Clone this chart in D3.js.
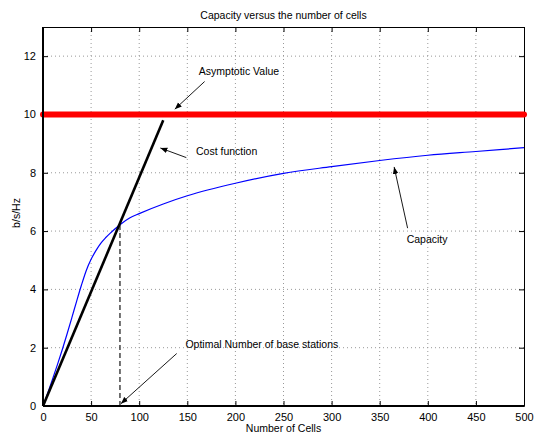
<!DOCTYPE html>
<html>
<head>
<meta charset="utf-8">
<script src="https://cdn.jsdelivr.net/npm/d3@7"></script>
<style>
body { margin: 0; background: #fff; }
text { font-family: "Liberation Sans", Arial, Helvetica, sans-serif; fill: #000; }
</style>
</head>
<body>
<svg width="539" height="435"></svg>
<script>
// capacity curve
var capCells = [0, 5, 10, 15, 20, 25, 30, 35, 40, 45, 50, 55, 60, 65, 70, 75, 80, 90, 100, 125, 150, 200, 250, 300, 350, 400, 450, 500];
var capValues = [0, 0.45, 0.93, 1.42, 1.93, 2.47, 3.03, 3.6, 4.15, 4.65, 5.03, 5.33, 5.58, 5.77, 5.93, 6.08, 6.22, 6.45, 6.6, 6.93, 7.21, 7.64, 7.98, 8.21, 8.42, 8.6, 8.73, 8.86];
var costCells = [0, 125];
var costValues = [0, 9.8];
var asymptote = 10;
var optimalCells = 80;
var optimalValue = 6.24;
var xTicks = [0, 50, 100, 150, 200, 250, 300, 350, 400, 450, 500];
var yTicks = [0, 2, 4, 6, 8, 10, 12];

// annotations: text, text position [cells, value], arrow tail, arrow head
var notes = [
  { label: "Asymptotic Value", at: [162, 11.47], from: [168, 11.13], to: [137, 10.18] },
  { label: "Cost function", at: [159, 8.72], from: [149, 8.52], to: [122, 8.85] },
  { label: "Capacity", at: [378, 5.72], from: [379, 6.1], to: [365, 8.2] },
  { label: "Optimal Number of base stations", at: [148, 2.12], from: [139, 1.8], to: [81, 0.08] }
];

var svg = d3.select("svg"),
    margin = {left: 43, top: 27, right: 15, bottom: 29},
    width = 539 - margin.left - margin.right,
    height = 435 - margin.top - margin.bottom;

var x = d3.scaleLinear().domain([0, 500]).range([0, width]);
var y = d3.scaleLinear().domain([0, 13]).range([height, 0]);

var defs = svg.append("defs");
defs.append("marker")
  .attr("id", "head")
  .attr("viewBox", "0 0 10 10")
  .attr("refX", 10).attr("refY", 5)
  .attr("markerWidth", 7).attr("markerHeight", 7)
  .attr("markerUnits", "userSpaceOnUse")
  .attr("orient", "auto")
  .append("path")
  .attr("d", "M0,1L10,5L0,9Z")
  .attr("fill", "#000");

var g = svg.append("g").attr("transform", "translate(" + margin.left + "," + margin.top + ")");

// grid
g.selectAll(".gx").data(xTicks.slice(1, -1)).enter().append("line")
  .attr("x1", x).attr("x2", x).attr("y1", 0).attr("y2", height)
  .attr("stroke", "#999").attr("stroke-dasharray", "1,3");
g.selectAll(".gy").data(yTicks.slice(1)).enter().append("line")
  .attr("y1", y).attr("y2", y).attr("x1", 0).attr("x2", width)
  .attr("stroke", "#999").attr("stroke-dasharray", "1,3");

// axes with inward ticks, box
g.append("g").attr("transform", "translate(0," + height + ")")
  .call(d3.axisBottom(x).tickValues(xTicks).tickSizeInner(-5).tickSizeOuter(0).tickPadding(7));
g.append("g")
  .call(d3.axisTop(x).tickValues(xTicks).tickSizeInner(-5).tickSizeOuter(0).tickFormat(""));
g.append("g")
  .call(d3.axisLeft(y).tickValues(yTicks).tickSizeInner(-5).tickSizeOuter(0).tickPadding(7));
g.append("g").attr("transform", "translate(" + width + ",0)")
  .call(d3.axisRight(y).tickValues(yTicks).tickSizeInner(-5).tickSizeOuter(0).tickFormat(""));
g.selectAll(".domain").attr("stroke", "#000");
g.selectAll(".tick text").style("font-size", "11px").style("font-family", "Liberation Sans, Arial, sans-serif");

// asymptote
g.append("line")
  .attr("x1", x(0)).attr("x2", x(500))
  .attr("y1", y(asymptote)).attr("y2", y(asymptote))
  .attr("stroke", "#ff0000").attr("stroke-width", 6).attr("stroke-linecap", "round");

// optimal dashed line
g.append("line")
  .attr("x1", x(optimalCells)).attr("x2", x(optimalCells))
  .attr("y1", y(0)).attr("y2", y(optimalValue))
  .attr("stroke", "#444").attr("stroke-width", 1.5).attr("stroke-dasharray", "5,3");

// capacity
var line = d3.line().curve(d3.curveMonotoneX)
  .x(function(d) { return x(d[0]); })
  .y(function(d) { return y(d[1]); });
g.append("path")
  .datum(d3.zip(capCells, capValues))
  .attr("d", line)
  .attr("fill", "none").attr("stroke", "#0000ff").attr("stroke-width", 1.2);

// cost function
g.append("path")
  .datum(d3.zip(costCells, costValues))
  .attr("d", d3.line().x(function(d) { return x(d[0]); }).y(function(d) { return y(d[1]); }))
  .attr("fill", "none").attr("stroke", "#000").attr("stroke-width", 2.6);

// box edges thicker on left/bottom
g.append("line").attr("x1", 0).attr("x2", 0).attr("y1", 0).attr("y2", height).attr("stroke", "#000").attr("stroke-width", 2);
g.append("line").attr("x1", 0).attr("x2", width).attr("y1", height).attr("y2", height).attr("stroke", "#000").attr("stroke-width", 2);

// annotations
notes.forEach(function(n) {
  g.append("line")
    .attr("x1", x(n.from[0])).attr("y1", y(n.from[1]))
    .attr("x2", x(n.to[0])).attr("y2", y(n.to[1]))
    .attr("stroke", "#000").attr("stroke-width", 0.9)
    .attr("marker-end", "url(#head)");
  g.append("text")
    .attr("x", x(n.at[0])).attr("y", y(n.at[1]))
    .attr("dy", "0.35em")
    .style("font-size", "10.5px")
    .text(n.label);
});

// titles
svg.append("text")
  .attr("x", margin.left + width / 2).attr("y", 15).attr("dy", "0.35em")
  .attr("text-anchor", "middle").style("font-size", "10.5px")
  .text("Capacity versus the number of cells");
svg.append("text")
  .attr("x", margin.left + width / 2).attr("y", 428).attr("dy", "0.35em")
  .attr("text-anchor", "middle").style("font-size", "10.5px")
  .text("Number of Cells");
svg.append("text")
  .attr("transform", "translate(16,213) rotate(-90)").attr("dy", "0.35em")
  .attr("text-anchor", "middle").style("font-size", "10.5px")
  .text("b/s/Hz");
</script>
</body>
</html>
